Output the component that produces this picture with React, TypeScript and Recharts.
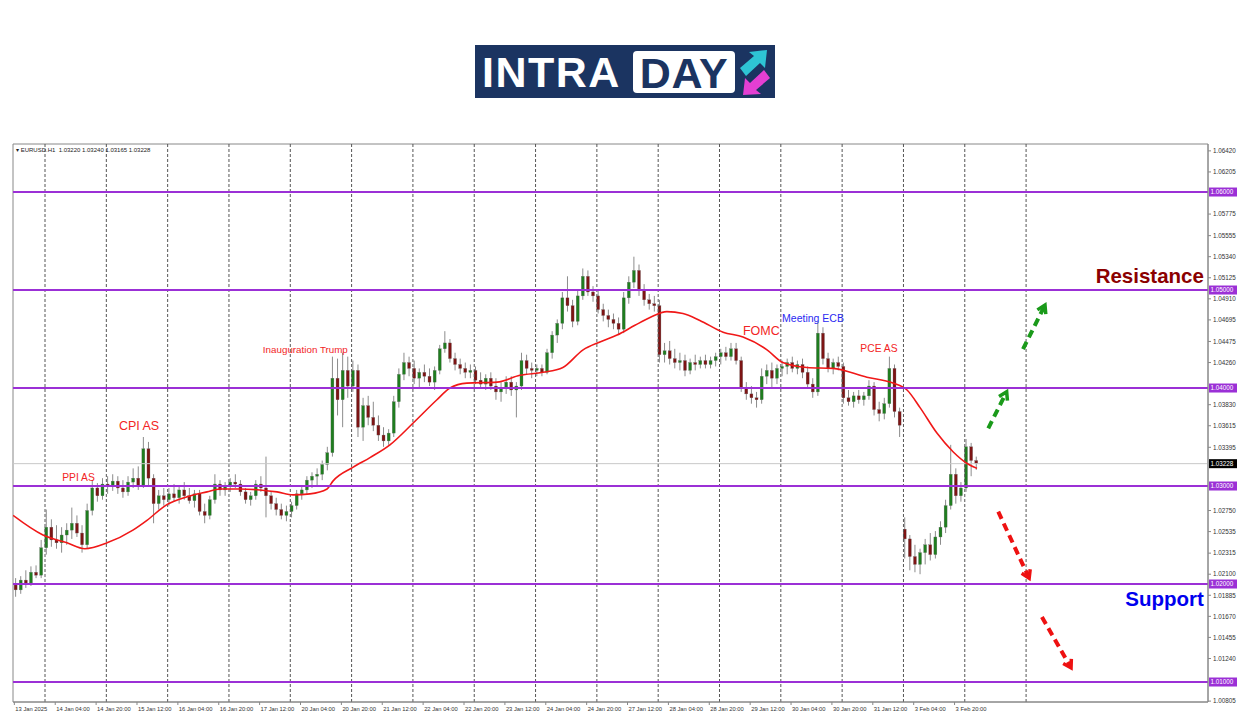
import React from 'react';
import {
  ComposedChart,
  Bar,
  Line,
  XAxis,
  YAxis,
  ReferenceLine,
  ReferenceDot,
  ReferenceArea,
} from 'recharts';

type Ohlc = [number, number, number, number];

// EURUSD, 2-hour candles: [open, high, low, close]
// hour index counts trading hours from Mon 13 Jan 00:00
const jan13: Ohlc[] = [
  [1.0199, 1.0206, 1.0187, 1.0194], [1.0194, 1.0208, 1.019, 1.0204], [1.0204, 1.0214, 1.0196, 1.0201],
  [1.0201, 1.0218, 1.0198, 1.0212], [1.0212, 1.0219, 1.0206, 1.0209], [1.0209, 1.0245, 1.0206, 1.0237],
];
const jan14: Ohlc[] = [
  [1.0237, 1.0276, 1.023, 1.0258], [1.0258, 1.0266, 1.0238, 1.0245], [1.0245, 1.026, 1.0236, 1.0242],
  [1.0242, 1.0258, 1.0232, 1.025], [1.025, 1.0262, 1.024, 1.0255], [1.0255, 1.0278, 1.0246, 1.0262],
  [1.0262, 1.027, 1.0248, 1.0252], [1.0252, 1.026, 1.0232, 1.024], [1.024, 1.0282, 1.0236, 1.0275],
  [1.0275, 1.0306, 1.027, 1.0298], [1.0298, 1.0303, 1.0284, 1.029], [1.029, 1.0308, 1.0286, 1.0302],
];
const jan15: Ohlc[] = [
  [1.0302, 1.031, 1.0292, 1.03], [1.03, 1.0312, 1.0295, 1.0305], [1.0305, 1.031, 1.0292, 1.0298],
  [1.0298, 1.0306, 1.0288, 1.0294], [1.0294, 1.031, 1.029, 1.0304], [1.0304, 1.0318, 1.0298, 1.0308],
  [1.0308, 1.032, 1.0296, 1.03], [1.03, 1.035, 1.0298, 1.0338], [1.0338, 1.0345, 1.03, 1.0308],
  [1.0308, 1.0312, 1.0262, 1.0282], [1.0282, 1.0296, 1.0276, 1.029], [1.029, 1.0298, 1.028, 1.0286],
];
const jan16: Ohlc[] = [
  [1.0286, 1.0298, 1.028, 1.0292], [1.0292, 1.0302, 1.0284, 1.0288], [1.0288, 1.03, 1.0282, 1.0296],
  [1.0296, 1.0304, 1.0286, 1.029], [1.029, 1.0298, 1.0282, 1.0285], [1.0285, 1.0296, 1.0278, 1.0292],
  [1.0292, 1.0296, 1.027, 1.0274], [1.0274, 1.0282, 1.0262, 1.027], [1.027, 1.029, 1.0266, 1.0286],
  [1.0286, 1.0312, 1.0282, 1.0302], [1.0302, 1.0306, 1.029, 1.0296], [1.0296, 1.0304, 1.029, 1.03],
];
const jan17: Ohlc[] = [
  [1.03, 1.0308, 1.0294, 1.0304], [1.0304, 1.0312, 1.0298, 1.0302], [1.0302, 1.0306, 1.029, 1.0294],
  [1.0294, 1.0298, 1.0282, 1.0286], [1.0286, 1.0294, 1.028, 1.029], [1.029, 1.0306, 1.0286, 1.0302],
  [1.0302, 1.031, 1.0294, 1.0298], [1.0298, 1.033, 1.0268, 1.029], [1.029, 1.0294, 1.0276, 1.0282],
  [1.0282, 1.0288, 1.027, 1.0276], [1.0276, 1.0282, 1.0266, 1.027], [1.027, 1.028, 1.0264, 1.0274],
];
const jan20: Ohlc[] = [
  [1.0274, 1.0284, 1.0268, 1.028], [1.028, 1.0296, 1.0276, 1.0292], [1.0292, 1.03, 1.0286, 1.0296],
  [1.0296, 1.031, 1.0292, 1.0306], [1.0306, 1.0314, 1.0298, 1.031], [1.031, 1.0318, 1.03, 1.0312],
  [1.0312, 1.0326, 1.0306, 1.0322], [1.0322, 1.034, 1.0316, 1.0334], [1.0334, 1.0432, 1.033, 1.041],
  [1.041, 1.043, 1.0372, 1.0388], [1.0388, 1.0436, 1.036, 1.0418], [1.0418, 1.0432, 1.039, 1.0402],
];
const jan21: Ohlc[] = [
  [1.0402, 1.0428, 1.0396, 1.0418], [1.0418, 1.0424, 1.035, 1.036], [1.036, 1.039, 1.0346, 1.0382],
  [1.0382, 1.0392, 1.0362, 1.037], [1.037, 1.0386, 1.0356, 1.0362], [1.0362, 1.0372, 1.0346, 1.0352],
  [1.0352, 1.036, 1.034, 1.0346], [1.0346, 1.0358, 1.0342, 1.0354], [1.0354, 1.0392, 1.035, 1.0386],
  [1.0386, 1.042, 1.038, 1.0414], [1.0414, 1.0436, 1.0408, 1.0426], [1.0426, 1.0432, 1.0412, 1.042],
];
const jan22: Ohlc[] = [
  [1.042, 1.0428, 1.0404, 1.041], [1.041, 1.042, 1.04, 1.0416], [1.0416, 1.0424, 1.0406, 1.0412],
  [1.0412, 1.042, 1.0402, 1.0406], [1.0406, 1.0422, 1.0398, 1.0418], [1.0418, 1.0444, 1.0414, 1.044],
  [1.044, 1.0458, 1.0436, 1.0446], [1.0446, 1.045, 1.0426, 1.043], [1.043, 1.0436, 1.0418, 1.0424],
  [1.0424, 1.043, 1.0414, 1.042], [1.042, 1.0426, 1.041, 1.0416], [1.0416, 1.0424, 1.041, 1.0418],
];
const jan23: Ohlc[] = [
  [1.0418, 1.0422, 1.0404, 1.0408], [1.0408, 1.0416, 1.04, 1.0404], [1.0404, 1.0414, 1.0398, 1.041],
  [1.041, 1.0416, 1.0398, 1.0402], [1.0402, 1.041, 1.0388, 1.0396], [1.0396, 1.0406, 1.0386, 1.04],
  [1.04, 1.0412, 1.0394, 1.0406], [1.0406, 1.0412, 1.0392, 1.0398], [1.0398, 1.0406, 1.037, 1.0402],
  [1.0402, 1.0436, 1.0398, 1.0428], [1.0428, 1.0434, 1.0414, 1.042], [1.042, 1.0426, 1.041, 1.0418],
];
const jan24: Ohlc[] = [
  [1.0418, 1.0424, 1.0412, 1.042], [1.042, 1.0424, 1.0412, 1.0416], [1.0416, 1.044, 1.0414, 1.0436],
  [1.0436, 1.0458, 1.043, 1.0454], [1.0454, 1.047, 1.0446, 1.0466], [1.0466, 1.0498, 1.046, 1.0492],
  [1.0492, 1.0514, 1.0478, 1.0484], [1.0484, 1.049, 1.0462, 1.0468], [1.0468, 1.05, 1.0464, 1.0494],
  [1.0494, 1.0522, 1.049, 1.0514], [1.0514, 1.052, 1.0494, 1.0498], [1.0498, 1.0504, 1.0488, 1.0494],
];
const jan27: Ohlc[] = [
  [1.0494, 1.05, 1.0476, 1.048], [1.048, 1.0486, 1.0468, 1.0474], [1.0474, 1.048, 1.0462, 1.047],
  [1.047, 1.0476, 1.046, 1.0466], [1.0466, 1.0472, 1.0454, 1.046], [1.046, 1.0498, 1.0456, 1.0492],
  [1.0492, 1.0514, 1.0486, 1.0508], [1.0508, 1.0534, 1.0502, 1.052], [1.052, 1.0526, 1.0494, 1.05],
  [1.05, 1.0506, 1.0484, 1.049], [1.049, 1.0496, 1.048, 1.0486], [1.0486, 1.0494, 1.0478, 1.0484],
];
const jan28: Ohlc[] = [
  [1.0484, 1.049, 1.0426, 1.0434], [1.0434, 1.0446, 1.0426, 1.0438], [1.0438, 1.0448, 1.0424, 1.043],
  [1.043, 1.044, 1.042, 1.0426], [1.0426, 1.0436, 1.0418, 1.0428], [1.0428, 1.0434, 1.0412, 1.0418],
  [1.0418, 1.043, 1.0414, 1.0426], [1.0426, 1.0434, 1.0418, 1.0424], [1.0424, 1.0432, 1.042, 1.0428],
  [1.0428, 1.0434, 1.042, 1.0424], [1.0424, 1.0432, 1.042, 1.0428], [1.0428, 1.0436, 1.0422, 1.0432],
];
const jan29: Ohlc[] = [
  [1.0432, 1.044, 1.0424, 1.0436], [1.0436, 1.0442, 1.0428, 1.0432], [1.0432, 1.0446, 1.0428, 1.044],
  [1.044, 1.0446, 1.0424, 1.0428], [1.0428, 1.0432, 1.0396, 1.04], [1.04, 1.0406, 1.0388, 1.0394],
  [1.0394, 1.0402, 1.0384, 1.039], [1.039, 1.0396, 1.038, 1.0388], [1.0388, 1.042, 1.0384, 1.0412],
  [1.0412, 1.0424, 1.0404, 1.0418], [1.0418, 1.0426, 1.04, 1.041], [1.041, 1.0424, 1.0404, 1.042],
];
const jan30: Ohlc[] = [
  [1.042, 1.0428, 1.0412, 1.0422], [1.0422, 1.043, 1.0414, 1.0426], [1.0426, 1.0432, 1.0416, 1.042],
  [1.042, 1.0428, 1.0414, 1.0424], [1.0424, 1.043, 1.041, 1.0416], [1.0416, 1.0422, 1.04, 1.0404],
  [1.0404, 1.041, 1.039, 1.0396], [1.0396, 1.0468, 1.0392, 1.0456], [1.0456, 1.0462, 1.0424, 1.043],
  [1.043, 1.0436, 1.0416, 1.042], [1.042, 1.043, 1.0414, 1.0426], [1.0426, 1.0432, 1.0418, 1.0422],
];
const jan31: Ohlc[] = [
  [1.0422, 1.0426, 1.0384, 1.039], [1.039, 1.0398, 1.0382, 1.0386], [1.0386, 1.0396, 1.038, 1.0392],
  [1.0392, 1.0398, 1.0384, 1.0388], [1.0388, 1.0396, 1.0382, 1.0392], [1.0392, 1.0408, 1.0388, 1.0402],
  [1.0402, 1.0406, 1.0372, 1.0378], [1.0378, 1.0386, 1.0366, 1.0374], [1.0374, 1.039, 1.0368, 1.0384],
  [1.0384, 1.0432, 1.038, 1.042], [1.042, 1.0424, 1.037, 1.0376], [1.0376, 1.038, 1.035, 1.0362],
];
const feb03: Ohlc[] = [
  [1.0256, 1.0268, 1.0226, 1.0246], [1.0246, 1.025, 1.0214, 1.0228], [1.0228, 1.024, 1.0212, 1.022],
  [1.022, 1.0236, 1.021, 1.0232], [1.0232, 1.0246, 1.022, 1.024], [1.024, 1.0252, 1.0224, 1.023],
  [1.023, 1.0254, 1.0226, 1.0248], [1.0248, 1.0264, 1.024, 1.0258], [1.0258, 1.0286, 1.0252, 1.028],
  [1.028, 1.0342, 1.0276, 1.0312], [1.0312, 1.0318, 1.0282, 1.029], [1.029, 1.0304, 1.0284, 1.0298],
];
const feb04: Ohlc[] = [
  [1.0298, 1.0348, 1.0294, 1.034], [1.034, 1.0344, 1.031, 1.0326], [1.0326, 1.033, 1.03165, 1.03228],
];

// first trading hour of each block
const sessions: [number, Ohlc[]][] = [
  [12, jan13], [24, jan14], [48, jan15], [72, jan16], [96, jan17], [120, jan20], [144, jan21],
  [168, jan22], [192, jan23], [216, jan24], [240, jan27], [264, jan28], [288, jan29], [312, jan30],
  [336, jan31], [360, feb03], [384, feb04],
];

// red moving average as [hour, price]
const movingAvg: [number, number][] = [
  [11.5, 1.027], [23.2, 1.025], [32.6, 1.0242], [39.6, 1.0236], [48.3, 1.0242], [58.4, 1.0255],
  [63.9, 1.0265], [71.7, 1.0281], [79.6, 1.0289], [87.4, 1.0294], [92.5, 1.0297], [100.3, 1.0297],
  [108.1, 1.0296], [114.8, 1.0294], [121.1, 1.0291], [127.7, 1.0292], [134.4, 1.0297], [136.7, 1.0305],
  [144.5, 1.0319], [151.2, 1.0329], [159, 1.0342], [168, 1.0364], [177.4, 1.0388], [182.5, 1.04],
  [189.1, 1.0405], [200.9, 1.0406], [209.9, 1.0413], [218.9, 1.0416], [226.7, 1.0421], [234.6, 1.0439],
  [241.2, 1.0447], [247.9, 1.0454], [254.9, 1.0464], [260.8, 1.0472], [267.4, 1.0478], [273.7, 1.0476],
  [280.3, 1.0469], [289.4, 1.0457], [297.2, 1.0452], [306.6, 1.0439], [312.8, 1.0426], [322.2, 1.0421],
  [332.4, 1.042], [345.7, 1.0411], [355.9, 1.0405], [361.4, 1.0398], [366.5, 1.038], [373.1, 1.0354],
  [379.4, 1.0335], [384.9, 1.0323], [388.8, 1.0318],
];

const levels = [1.06, 1.05, 1.04, 1.03, 1.02, 1.01];
const lastPrice = 1.03228;
const priceTicks = [
  1.0642, 1.06205, 1.05775, 1.05555, 1.0534, 1.05125, 1.0491, 1.04695, 1.04475, 1.0426, 1.0383,
  1.03615, 1.03395, 1.0275, 1.02535, 1.02315, 1.021, 1.01885, 1.0167, 1.01455, 1.0124, 1.00805,
];
const daySeparators = [24, 48, 72, 96, 120, 144, 168, 192, 216, 240, 264, 288, 312, 336, 360, 384, 408];
const timeTicks = [12, 28, 44, 60, 76, 92, 108, 124, 140, 156, 172, 188, 204, 220, 236, 252, 268, 284, 300, 316, 332, 348, 364, 380];
const timeLabels = [
  '13 Jan 2025', '14 Jan 04:00', '14 Jan 20:00', '15 Jan 12:00', '16 Jan 04:00', '16 Jan 20:00',
  '17 Jan 12:00', '20 Jan 04:00', '20 Jan 20:00', '21 Jan 12:00', '22 Jan 04:00', '22 Jan 20:00',
  '23 Jan 12:00', '24 Jan 04:00', '24 Jan 20:00', '27 Jan 12:00', '28 Jan 04:00', '28 Jan 20:00',
  '29 Jan 12:00', '30 Jan 04:00', '30 Jan 20:00', '31 Jan 12:00', '3 Feb 04:00', '3 Feb 20:00',
];

// event notes: [text, hour, price]
const redNotes: [string, number, number][] = [
  ['PPI AS', 37.1, 1.03082],
  ['CPI AS', 60.8, 1.03612],
  ['Inauguration Trump', 125.9, 1.04398],
  ['FOMC', 304.4, 1.04582],
  ['PCE AS', 350.4, 1.04408],
];
const blueNotes: [string, number, number][] = [['Meeting ECB', 324.6, 1.04714]];

// scenario arrows: [fromHour, fromPrice, toHour, toPrice]
const upArrows: [number, number, number, number][] = [
  [393.2, 1.03589, 400.4, 1.03962],
  [406.8, 1.04397, 415.4, 1.04846],
];
const downArrows: [number, number, number, number][] = [
  [397.1, 1.02738, 409.2, 1.02059],
  [414.2, 1.01664, 425.6, 1.01144],
];

const X_DOMAIN: [number, number] = [11.47, 479.2];
const Y_DOMAIN: [number, number] = [1.00796, 1.0649];
const PURPLE = '#9b30d6';
const FONT = '"Liberation Sans", Arial, sans-serif';

const candles = sessions.flatMap(([start, bars]) =>
  bars.map(([o, h, l, c], i) => ({ t: start + i * 2 + 0.5, o, h, l, c, range: [l, h] })),
);
const maData = movingAvg.map(([t, v]) => ({ t, v }));

const Candle = (props: any) => {
  const { x, y, width, height } = props;
  const d = props.payload ?? props;
  const cx = x + width / 2;
  const k = d.h === d.l ? 0 : height / (d.h - d.l);
  const top = y + (d.h - Math.max(d.o, d.c)) * k;
  const bottom = y + (d.h - Math.min(d.o, d.c)) * k;
  const up = d.c >= d.o;
  return (
    <g>
      <line x1={cx} x2={cx} y1={y} y2={y + height} stroke="#8c8c8c" strokeWidth={1} />
      <rect
        x={cx - 1.5}
        y={top}
        width={3}
        height={Math.max(bottom - top, 1)}
        fill={up ? '#1f7d1f' : '#7d1414'}
        stroke="#6e6e6e"
        strokeWidth={0.3}
      />
    </g>
  );
};

const priceBox = (text: string, fill: string) => (props: any) => {
  const { x1, x2, y1 } = props;
  const right = Math.max(x1, x2);
  const left = Math.min(x1, x2);
  const isLast = fill === '#000';
  return (
    <g>
      <line x1={left} x2={right} y1={y1} y2={y1} stroke={isLast ? '#c8c8c8' : PURPLE} strokeWidth={isLast ? 1 : 2} />
      <rect x={right + 1} y={y1 - 4.5} width={28} height={9} fill={fill} />
      <text x={right + 2.5} y={y1 + 2.3} fontSize={6.3} fill="#fff" fontFamily={FONT}>
        {text}
      </text>
    </g>
  );
};

const dashedArrow = (color: string) => (props: any) => {
  const { x1, y1, x2, y2 } = props;
  const ang = Math.atan2(y2 - y1, x2 - x1);
  const head = 9;
  const a1 = ang + Math.PI - 0.55;
  const a2 = ang + Math.PI + 0.55;
  const bx = x2 - Math.cos(ang) * 3;
  const by = y2 - Math.sin(ang) * 3;
  return (
    <g>
      <line x1={x1} y1={y1} x2={bx} y2={by} stroke={color} strokeWidth={4} strokeDasharray="8 5" />
      <polyline
        points={`${x2 + Math.cos(a1) * head},${y2 + Math.sin(a1) * head} ${x2},${y2} ${x2 + Math.cos(a2) * head},${y2 + Math.sin(a2) * head}`}
        fill="none"
        stroke={color}
        strokeWidth={3.5}
      />
    </g>
  );
};

const noteShape = (text: string, color: string, size: number, bold = false, anchor = 'middle') => (props: any) => (
  <text
    x={props.cx}
    y={props.cy}
    fill={color}
    fontSize={size}
    fontWeight={bold ? 700 : 400}
    textAnchor={anchor as any}
    dominantBaseline="central"
    fontFamily={FONT}
  >
    {text}
  </text>
);

const TimeTick = (props: any) => {
  const { x, y, payload } = props;
  const label = timeLabels[timeTicks.indexOf(payload.value)];
  return (
    <text x={x + 1} y={y + 4} fontSize={5.8} fill="#333" fontFamily={FONT}>
      {label}
    </text>
  );
};

const Logo = () => (
  <div
    style={{
      position: 'absolute',
      left: 475,
      top: 45,
      width: 300,
      height: 53,
      background: '#1b3461',
      fontFamily: FONT,
      fontWeight: 700,
    }}
  >
    <div style={{ position: 'absolute', left: 7, top: 4, fontSize: 43, color: '#fff', letterSpacing: 1.5, lineHeight: '46px' }}>
      INTRA
    </div>
    <div
      style={{
        position: 'absolute',
        left: 158,
        top: 6,
        width: 102,
        height: 42,
        background: '#fff',
        borderRadius: 4,
        color: '#1b3461',
        fontSize: 43,
        lineHeight: '44px',
        textAlign: 'center',
        letterSpacing: 0.5,
      }}
    >
      DAY
    </div>
    <svg style={{ position: 'absolute', left: 262, top: 3 }} width={36} height={48}>
      <polygon points="3,20 17,8 12,4 30,2 28,20 23,15 9,28" fill="#2ec4d4" />
      <polygon points="33,30 19,42 24,46 6,47 8,30 13,35 27,22" fill="#e43fd3" />
    </svg>
  </div>
);

export default function App() {
  return (
    <div style={{ position: 'absolute', left: 0, top: 0, width: 1250, height: 716, background: '#fff', overflow: 'hidden' }}>
      <Logo />
      <div
        style={{
          position: 'absolute',
          left: 16,
          top: 146,
          fontSize: 6,
          fontFamily: FONT,
          color: '#222',
          whiteSpace: 'pre',
          lineHeight: '8px',
          zIndex: 2,
        }}
      >
        {'\u25BE EURUSD.H1  1.03220 1.03240 1.03165 1.03228'}
      </div>
      <ComposedChart
        width={1250}
        height={716}
        data={candles}
        margin={{ top: 144, right: 0, bottom: 0, left: 13 }}
      >
        <XAxis
          type="number"
          dataKey="t"
          domain={X_DOMAIN}
          allowDataOverflow
          ticks={timeTicks}
          interval={0}
          tick={<TimeTick />}
          tickSize={3}
          tickLine={{ stroke: '#888' }}
          axisLine={{ stroke: '#888' }}
          height={14}
        />
        <YAxis
          orientation="right"
          type="number"
          domain={Y_DOMAIN}
          allowDataOverflow
          ticks={priceTicks}
          interval={0}
          tickFormatter={(v: number) => v.toFixed(5)}
          tick={{ fontSize: 6.3, fill: '#333', fontFamily: FONT }}
          tickSize={3}
          tickMargin={2}
          tickLine={{ stroke: '#888' }}
          axisLine={{ stroke: '#888' }}
          width={42}
        />
        <ReferenceArea
          x1={X_DOMAIN[0]}
          x2={X_DOMAIN[1]}
          y1={Y_DOMAIN[0]}
          y2={Y_DOMAIN[1]}
          fill="none"
          stroke="#888"
          ifOverflow="visible"
        />
        {daySeparators.map((t) => (
          <ReferenceLine key={t} x={t} stroke="#555" strokeDasharray="3 2" strokeWidth={1} />
        ))}
        <ReferenceLine y={lastPrice} shape={priceBox(lastPrice.toFixed(5), '#000')} />
        <Bar dataKey="range" barSize={3} shape={Candle} isAnimationActive={false} />
        <Line
          data={maData}
          dataKey="v"
          type="monotone"
          stroke="#f01818"
          strokeWidth={1.6}
          dot={false}
          activeDot={false}
          isAnimationActive={false}
        />
        {levels.map((p) => (
          <ReferenceLine key={p} y={p} shape={priceBox(p.toFixed(5), PURPLE)} />
        ))}
        {redNotes.map(([text, t, p]) => (
          <ReferenceDot
            key={text}
            x={t}
            y={p}
            r={0}
            shape={noteShape(text, '#f22424', text === 'CPI AS' || text === 'FOMC' ? 12.5 : text === 'Inauguration Trump' ? 9.8 : 10.3)}
          />
        ))}
        {blueNotes.map(([text, t, p]) => (
          <ReferenceDot key={text} x={t} y={p} r={0} shape={noteShape(text, '#2a2af2', 10.5)} />
        ))}
        <ReferenceDot x={477.6} y={1.05153} r={0} shape={noteShape('Resistance', '#8b0000', 20.5, true, 'end')} />
        <ReferenceDot x={477.6} y={1.01857} r={0} shape={noteShape('Support', '#0000ee', 20.5, true, 'end')} />
        {upArrows.map(([t1, p1, t2, p2]) => (
          <ReferenceLine
            key={`u${t1}`}
            segment={[{ x: t1, y: p1 }, { x: t2, y: p2 }]}
            shape={dashedArrow('#1a9a1a')}
          />
        ))}
        {downArrows.map(([t1, p1, t2, p2]) => (
          <ReferenceLine
            key={`d${t1}`}
            segment={[{ x: t1, y: p1 }, { x: t2, y: p2 }]}
            shape={dashedArrow('#ee1111')}
          />
        ))}
      </ComposedChart>
    </div>
  );
}
